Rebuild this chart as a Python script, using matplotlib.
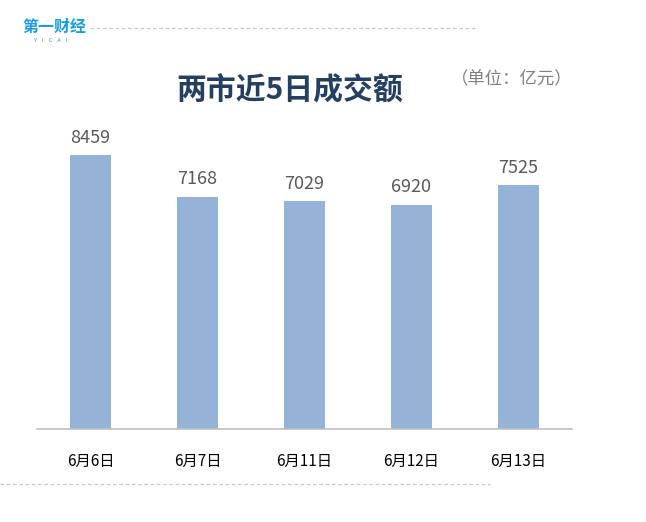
import matplotlib.pyplot as plt

plt.rcParams['font.family'] = ['Noto Sans CJK SC', 'DejaVu Sans']

# Data
dates = ["6月6日", "6月7日", "6月11日", "6月12日", "6月13日"]
turnover = [8459, 7168, 7029, 6920, 7525]

fig = plt.figure(figsize=(6.46, 5.22), dpi=100)
ax = fig.add_axes([37 / 646, 93 / 522, 535 / 646, 291.6 / 522])

x = range(len(dates))
bars = ax.bar(x, turnover, width=0.39, color="#95B3D7")
ax.bar_label(bars, labels=[str(v) for v in turnover], padding=6,
             fontsize=13, color="#595959")

ax.set_xlim(-0.5, 4.5)
ax.set_ylim(0, 9000)
ax.set_xticks(list(x))
ax.set_xticklabels(dates, fontsize=11, color="black")
ax.tick_params(axis="x", length=0, pad=17)
ax.set_yticks([])
for side in ["top", "right", "left"]:
    ax.spines[side].set_visible(False)
ax.spines["bottom"].set_color("#BFBFBF")
ax.spines["bottom"].set_linewidth(1.2)

# Title and unit
fig.text(290 / 646, 1 - 90 / 522, "两市近5日成交额", fontsize=21.5,
         fontweight="bold", color="#243F60", ha="center", va="center")
fig.text(512 / 646, 1 - 79 / 522, "（单位：亿元）", fontsize=12.5,
         color="#7F7F7F", ha="center", va="center")

# Logo and dashed rules
fig.text(22 / 646, 1 - 27 / 522, "第一财经", fontsize=11.5, fontweight="bold",
         color="#1E9BE0", ha="left", va="center")
fig.text(51 / 646, 1 - 40 / 522, "Y    I    C    A    I", fontsize=4,
         color="#1E9BE0", ha="center", va="center")
fig.add_artist(plt.Line2D([90 / 646, 478 / 646], [1 - 28 / 522, 1 - 28 / 522],
                          color="#C8C8C8", linestyle=(0, (3, 2)), linewidth=0.9))
fig.add_artist(plt.Line2D([0, 490 / 646], [1 - 484 / 522, 1 - 484 / 522],
                          color="#C8C8C8", linestyle=(0, (3, 2)), linewidth=0.9))

fig.savefig("out.png", dpi=100)
